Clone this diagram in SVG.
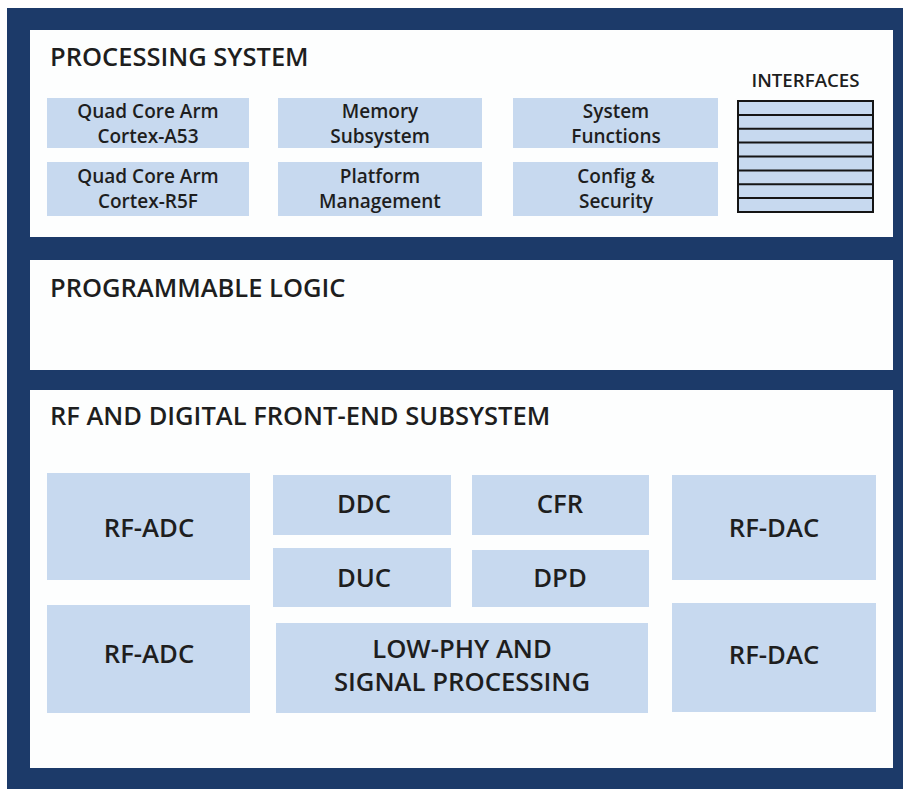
<svg xmlns="http://www.w3.org/2000/svg" width="906" height="789" viewBox="0 0 906 789">
<style>
  .t{font-family:"Open Sans","Liberation Sans",sans-serif;font-weight:600;fill:#1e1e1e}
  .title{font-size:25.5px}
  .ps{font-size:19px;text-anchor:middle}
  .rf{font-size:25.7px;text-anchor:middle}
  .box{fill:#c7d9ef}
  .panel{fill:#fdfefe}
  .ifc{fill:#c7d9ef;stroke:#151515;stroke-width:2}
  .ifl{stroke:#151515;stroke-width:2}
</style>
<rect x="0" y="0" width="906" height="789" fill="#ffffff"/>
<rect x="7" y="8" width="896" height="781" fill="#1c3a69"/>

<g id="processing-system">
  <rect class="panel" x="30" y="30" width="863" height="207"/>
  <text class="t title" x="50" y="66">PROCESSING SYSTEM</text>
</g>
<g id="a53">
  <rect class="box" x="47" y="98" width="202" height="50"/>
  <text class="t ps" x="148" y="118">Quad Core Arm</text>
  <text class="t ps" x="148" y="143">Cortex-A53</text>
</g>
<g id="r5f">
  <rect class="box" x="47" y="162" width="202" height="54"/>
  <text class="t ps" x="148" y="183">Quad Core Arm</text>
  <text class="t ps" x="148" y="208">Cortex-R5F</text>
</g>
<g id="memory">
  <rect class="box" x="278" y="98" width="204" height="50"/>
  <text class="t ps" x="380" y="118">Memory</text>
  <text class="t ps" x="380" y="143">Subsystem</text>
</g>
<g id="platform">
  <rect class="box" x="278" y="162" width="204" height="54"/>
  <text class="t ps" x="380" y="183">Platform</text>
  <text class="t ps" x="380" y="208">Management</text>
</g>
<g id="sysfunc">
  <rect class="box" x="513" y="98" width="205" height="50"/>
  <text class="t ps" x="616" y="118">System</text>
  <text class="t ps" x="616" y="143">Functions</text>
</g>
<g id="config">
  <rect class="box" x="513" y="162" width="205" height="54"/>
  <text class="t ps" x="616" y="183">Config &amp;</text>
  <text class="t ps" x="616" y="208">Security</text>
</g>
<g id="interfaces">
  <text class="t" x="805.5" y="87" font-size="18.7" text-anchor="middle">INTERFACES</text>
  <rect class="ifc" x="738" y="101" width="135" height="111"/>
  <g class="ifl">
    <line x1="738" y1="114.9" x2="873" y2="114.9"/>
    <line x1="738" y1="128.8" x2="873" y2="128.8"/>
    <line x1="738" y1="142.6" x2="873" y2="142.6"/>
    <line x1="738" y1="156.5" x2="873" y2="156.5"/>
    <line x1="738" y1="170.4" x2="873" y2="170.4"/>
    <line x1="738" y1="184.2" x2="873" y2="184.2"/>
    <line x1="738" y1="198.1" x2="873" y2="198.1"/>
  </g>
</g>

<g id="programmable-logic">
  <rect class="panel" x="30" y="260" width="863" height="110"/>
  <text class="t title" x="50" y="297">PROGRAMMABLE LOGIC</text>
</g>

<g id="rf-dfe">
  <rect class="panel" x="30" y="390" width="863" height="378"/>
  <text class="t title" x="50" y="425">RF AND DIGITAL FRONT-END SUBSYSTEM</text>
</g>
<g id="rf-adc-1">
  <rect class="box" x="47" y="473" width="203" height="107"/>
  <text class="t rf" x="149" y="537">RF-ADC</text>
</g>
<g id="rf-adc-2">
  <rect class="box" x="47" y="605" width="203" height="108"/>
  <text class="t rf" x="149" y="663">RF-ADC</text>
</g>
<g id="ddc">
  <rect class="box" x="273" y="475" width="178" height="60"/>
  <text class="t rf" x="364" y="513">DDC</text>
</g>
<g id="duc">
  <rect class="box" x="273" y="548" width="178" height="59"/>
  <text class="t rf" x="364" y="587">DUC</text>
</g>
<g id="cfr">
  <rect class="box" x="472" y="475" width="177" height="60"/>
  <text class="t rf" x="560" y="513">CFR</text>
</g>
<g id="dpd">
  <rect class="box" x="472" y="550" width="177" height="57"/>
  <text class="t rf" x="560" y="587">DPD</text>
</g>
<g id="low-phy">
  <rect class="box" x="276" y="623" width="372" height="90"/>
  <text class="t rf" x="462" y="658">LOW-PHY AND</text>
  <text class="t rf" x="462" y="691">SIGNAL PROCESSING</text>
</g>
<g id="rf-dac-1">
  <rect class="box" x="672" y="475" width="204" height="105"/>
  <text class="t rf" x="774" y="537">RF-DAC</text>
</g>
<g id="rf-dac-2">
  <rect class="box" x="672" y="603" width="204" height="109"/>
  <text class="t rf" x="774" y="664">RF-DAC</text>
</g>
<g id="connectors"></g>
</svg>
